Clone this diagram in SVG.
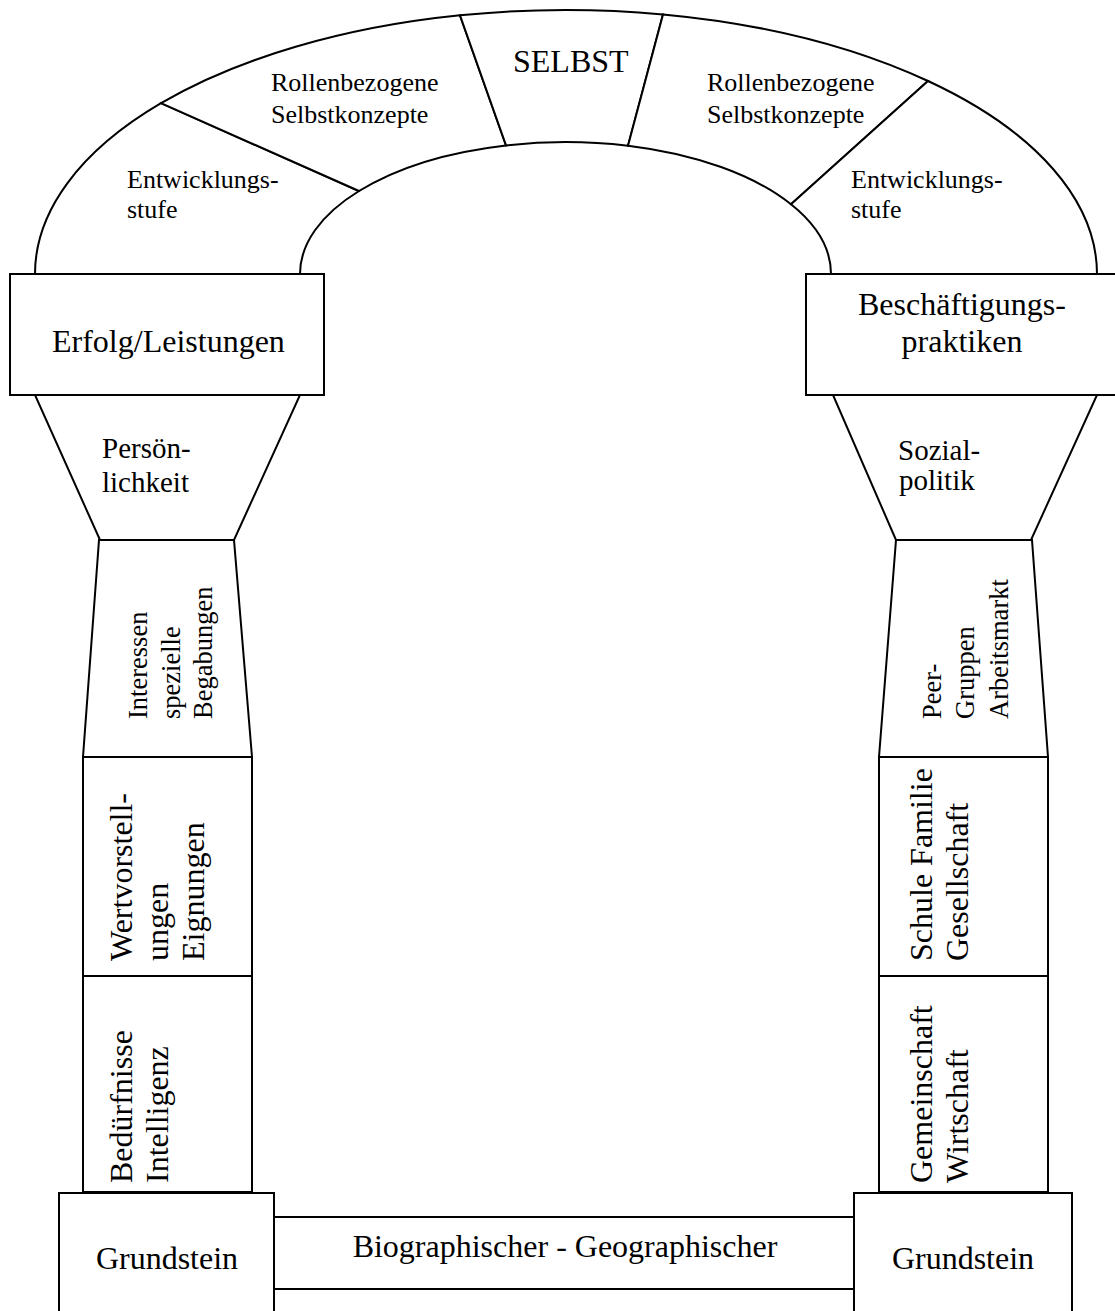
<svg xmlns="http://www.w3.org/2000/svg" width="1115" height="1311" viewBox="0 0 1115 1311">
<style>
.s{fill:#fff;stroke:#000;stroke-width:2;stroke-linejoin:miter}
text{font-family:"Liberation Serif","Times New Roman",serif;fill:#000}
.b{font-size:32px}
.m{font-size:29px}
.t{font-size:26px}
.v{font-size:26.5px}
.c{text-anchor:middle}
</style>
<rect width="1115" height="1311" fill="#fff"/>
<g id="arch-left-entwicklung">
<path class="s" d="M35,274 A531,264 0 0 1 161,103.2 L359,191 A265.5,132 0 0 0 300,274 Z"/>
<text class="t" x="127" y="188">Entwicklungs-</text>
<text class="t" x="127" y="218">stufe</text>
</g>
<g id="arch-left-rollen">
<path class="s" d="M161,103.2 A531,264 0 0 1 460,15.3 L506,145.4 A265.5,132 0 0 0 359,191 Z"/>
<text class="t" x="271" y="91">Rollenbezogene</text>
<text class="t" x="271" y="123">Selbstkonzepte</text>
</g>
<g id="arch-selbst">
<path class="s" d="M460,15.3 A531,264 0 0 1 663,14.4 L628,145.7 A265.5,132 0 0 0 506,145.4 Z"/>
<text class="b" x="513" y="72">SELBST</text>
</g>
<g id="arch-right-rollen">
<path class="s" d="M663,14.4 A531,264 0 0 1 928,81 L791,204.3 A265.5,132 0 0 0 628,145.7 Z"/>
<text class="t" x="707" y="91">Rollenbezogene</text>
<text class="t" x="707" y="123">Selbstkonzepte</text>
</g>
<g id="arch-right-entwicklung">
<path class="s" d="M928,81 A531,264 0 0 1 1097,274 L831,274 A265.5,132 0 0 0 791,204.3 Z"/>
<text class="t" x="851" y="188">Entwicklungs-</text>
<text class="t" x="851" y="218">stufe</text>
</g>
<g id="erfolg">
<rect class="s" x="10" y="274" width="314" height="121"/>
<text class="b" x="52" y="352">Erfolg/Leistungen</text>
</g>
<g id="beschaeftigung">
<rect class="s" x="806" y="274" width="330" height="121"/>
<text class="b c" x="962" y="315">Beschäftigungs-</text>
<text class="b c" x="962" y="352">praktiken</text>
</g>
<g id="persoenlichkeit">
<path class="s" d="M35,395 L300,395 L234,540 L100,540 Z"/>
<text class="m" x="102" y="458">Persön-</text>
<text class="m" x="102" y="492">lichkeit</text>
</g>
<g id="sozialpolitik">
<path class="s" d="M833,395 L1097,395 L1031,540 L896,540 Z"/>
<text class="m" x="898" y="460">Sozial-</text>
<text class="m" x="899" y="490">politik</text>
</g>
<g id="interessen">
<path class="s" d="M99,540 L234,540 L252,757 L83,757 Z"/>
<text class="v" transform="translate(147,719) rotate(-90)">Interessen</text>
<text class="v" transform="translate(180,719) rotate(-90)">spezielle</text>
<text class="v" transform="translate(212,719) rotate(-90)">Begabungen</text>
</g>
<g id="peergruppen">
<path class="s" d="M896,540 L1032,540 L1048,757 L879,757 Z"/>
<text class="v" transform="translate(941,719) rotate(-90)">Peer-</text>
<text class="v" transform="translate(974,719) rotate(-90)">Gruppen</text>
<text class="v" transform="translate(1008,719) rotate(-90)">Arbeitsmarkt</text>
</g>
<g id="wertvorstellungen">
<rect class="s" x="83" y="757" width="169" height="219"/>
<text class="b" transform="translate(132,961) rotate(-90)">Wertvorstell-</text>
<text class="b" transform="translate(168,961) rotate(-90)">ungen</text>
<text class="b" transform="translate(204,961) rotate(-90)">Eignungen</text>
</g>
<g id="beduerfnisse">
<rect class="s" x="83" y="976" width="169" height="216"/>
<text class="b" transform="translate(132,1183) rotate(-90)">Bedürfnisse</text>
<text class="b" transform="translate(168,1183) rotate(-90)">Intelligenz</text>
</g>
<g id="schule">
<rect class="s" x="879" y="757" width="169" height="219"/>
<text class="b" transform="translate(932,961) rotate(-90)">Schule Familie</text>
<text class="b" transform="translate(968,961) rotate(-90)">Gesellschaft</text>
</g>
<g id="gemeinschaft">
<rect class="s" x="879" y="976" width="169" height="216"/>
<text class="b" transform="translate(932,1183) rotate(-90)">Gemeinschaft</text>
<text class="b" transform="translate(968,1183) rotate(-90)">Wirtschaft</text>
</g>
<g id="grundstein-left">
<rect class="s" x="59" y="1193" width="215" height="140"/>
<text class="b c" x="167" y="1269">Grundstein</text>
</g>
<g id="grundstein-right">
<rect class="s" x="854" y="1193" width="218" height="140"/>
<text class="b c" x="963" y="1269">Grundstein</text>
</g>
<g id="basis">
<rect class="s" x="274" y="1217" width="580" height="72"/>
<text class="b c" x="565" y="1257">Biographischer - Geographischer</text>
</g>
<g id="connectors"></g>
</svg>
